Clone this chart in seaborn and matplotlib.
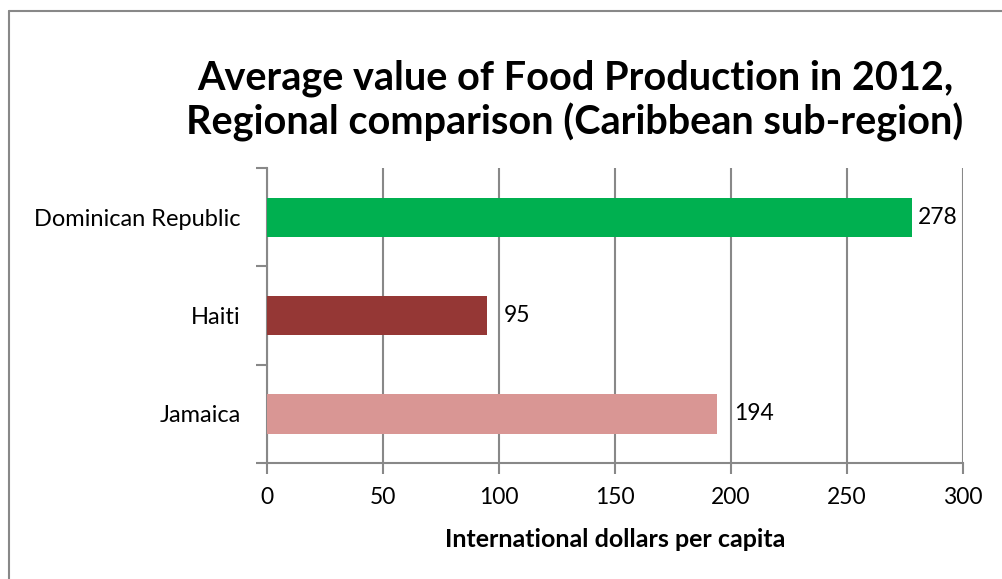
import matplotlib
matplotlib.use("Agg")
import matplotlib.pyplot as plt
from matplotlib.lines import Line2D
import seaborn as sns
import pandas as pd

# Data
countries = ["Dominican Republic", "Haiti", "Jamaica"]
values = [278, 95, 194]
bar_colors = ["#00B050", "#953735", "#D99694"]
x_ticks = [0, 50, 100, 150, 200, 250, 300]

title = "Average value of Food Production in 2012,\nRegional comparison (Caribbean sub-region)"
x_label = "International dollars per capita"

sns.set_theme(style="white")
plt.rcParams["font.family"] = ["Lato", "DejaVu Sans"]
plt.rcParams["text.color"] = "black"
plt.rcParams["xtick.color"] = "black"
plt.rcParams["ytick.color"] = "black"
plt.rcParams["axes.labelcolor"] = "black"

W, H = 1003, 579
fig = plt.figure(figsize=(W / 100, H / 100), dpi=100)
ax = fig.add_axes([267 / W, 1 - 463 / H, (963 - 267) / W, (463 - 168) / H])

df = pd.DataFrame({"country": countries, "value": values})
sns.barplot(data=df, x="value", y="country", hue="country", order=countries,
            palette=dict(zip(countries, bar_colors)), width=0.4, orient="h",
            legend=False, ax=ax, saturation=1, linewidth=0, zorder=3)

grid_color = "#888888"
ax.set_xlim(0, 300)
ax.set_ylim(2.5, -0.5)
ax.set_xticks(x_ticks)
ax.set_xticklabels([str(t) for t in x_ticks], fontsize=16.5)
ax.xaxis.grid(True, color=grid_color, linewidth=1.5, zorder=0)
ax.set_axisbelow(True)
ax.yaxis.grid(False)

# Category boundaries carry the tick marks on the vertical axis
ax.set_yticks([-0.5, 0.5, 1.5, 2.5], minor=True)
ax.tick_params(axis="y", which="major", length=0, labelsize=17, pad=19)
ax.tick_params(axis="y", which="minor", length=8, width=1.5, color=grid_color, left=True)
ax.tick_params(axis="x", which="major", length=8, width=1.5, color=grid_color,
               bottom=True, labelsize=16.5, pad=9)

for side in ["top", "right"]:
    ax.spines[side].set_visible(False)
for side in ["left", "bottom"]:
    ax.spines[side].set_color(grid_color)
    ax.spines[side].set_linewidth(1.5)

ax.set_ylabel("")
ax.set_xlabel(x_label, fontsize=18, fontweight="bold", labelpad=15)

# Value labels at bar ends, nudged clear of the gridlines
label_offsets = [4.5, 11.5, 12.5]
for i, (v, off) in enumerate(zip(values, label_offsets)):
    ax.annotate(str(v), xy=(v, i), xytext=(off, 0), textcoords="offset points",
                va="center", ha="left", fontsize=16.5, color="black")

fig.text(575 / W, 1 - 101 / H, title, ha="center", va="center",
         fontsize=28.5, fontweight="bold", linespacing=1.2)

# Chart frame
fig.add_artist(Line2D([9 / W, 1], [1 - 11 / H, 1 - 11 / H], transform=fig.transFigure,
                      color=grid_color, linewidth=1.5))
fig.add_artist(Line2D([9 / W, 9 / W], [0, 1 - 11 / H], transform=fig.transFigure,
                      color=grid_color, linewidth=1.5))

fig.savefig("out.png", dpi=100, facecolor="white")
